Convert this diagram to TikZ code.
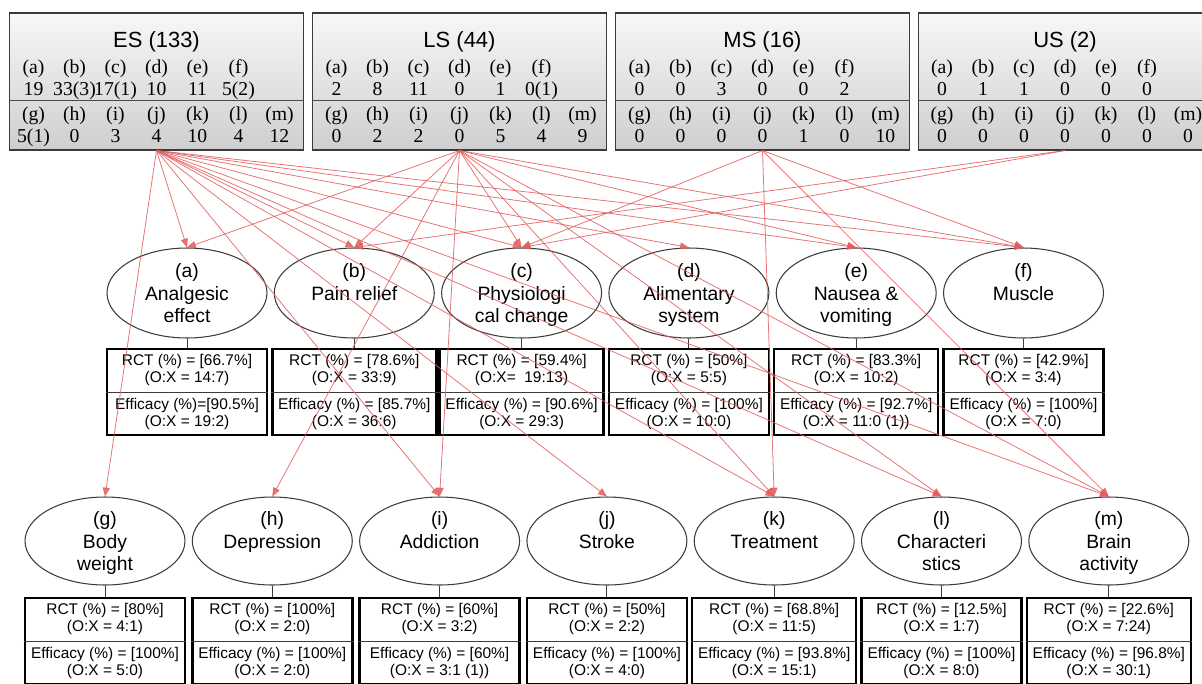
\documentclass[tikz,border=0pt]{standalone}
\usepackage{fontspec}
\setmainfont{Liberation Serif}
\setsansfont{Liberation Sans}
\usepackage{array}
\usepackage{xcolor}
\usepackage{tikz}
\usetikzlibrary{positioning, shapes.geometric, shapes.multipart, arrows.meta}

\definecolor{linkred}{RGB}{226,92,92}
\definecolor{framegray}{RGB}{60,60,60}

% title, first value row, second value row
\newcommand{\countgrid}[3]{%
  \begin{tabular}{*{7}{@{}w{c}{0.82cm}@{}}}
    \multicolumn{7}{c}{\sffamily\fontsize{12.5}{14}\selectfont #1}\\[2pt]
    (a) & (b) & (c) & (d) & (e) & (f) & \\
    #2\\[1.7pt]
    (g) & (h) & (i) & (j) & (k) & (l) & (m)\\
    #3
  \end{tabular}}

\begin{document}
\begin{tikzpicture}[x=0.02cm, y=-0.02cm,
    source/.style = {draw=framegray, line width=0.6pt,
                     top color=gray!6, bottom color=gray!38,
                     minimum width=5.88cm, minimum height=2.74cm,
                     inner sep=0pt},
    counts/.style = {font=\fontsize{11.2}{12.5}\selectfont, inner sep=0pt},
    topic/.style = {draw=framegray, ellipse, line width=0.6pt,
                    minimum width=3.2cm, minimum height=1.8cm,
                    inner sep=0pt, align=center, text depth=0pt,
                    font=\sffamily\fontsize{11}{13}\selectfont},
    result/.style = {draw, rectangle split, rectangle split parts=2,
                     rectangle split draw splits=false,
                     line width=1.4pt, minimum width=3.2cm,
                     inner ysep=2.7pt, align=center,
                     font=\sffamily\fontsize{8.8}{9.6}\selectfont},
    tie/.style = {draw=framegray, line width=0.5pt},
    link/.style = {draw=linkred, line width=0.45pt, opacity=0.85,
                   -{Triangle[length=5pt,width=4pt]}}]

  \useasboundingbox (0,0) rectangle (1202,683);

  % study groups
  \node (ES) [source] at (156.5,81.5) {};
  \node (LS) [source] at (459.5,81.5) {};
  \node (MS) [source] at (762.5,81.5) {};
  \node (US) [source] at (1065,81.5) {};

  \node (ES-n) [counts] at (156.5,90.5)
    {\countgrid{ES (133)}{19 & 33(3) & 17(1) & 10 & 11 & 5(2) &}{5(1) & 0 & 3 & 4 & 10 & 4 & 12}};
  \node (LS-n) [counts] at (459.5,90.5)
    {\countgrid{LS (44)}{2 & 8 & 11 & 0 & 1 & 0(1) &}{0 & 2 & 2 & 0 & 5 & 4 & 9}};
  \node (MS-n) [counts] at (762.5,90.5)
    {\countgrid{MS (16)}{0 & 0 & 3 & 0 & 0 & 2 &}{0 & 0 & 0 & 0 & 1 & 0 & 10}};
  \node (US-n) [counts] at (1065,90.5)
    {\countgrid{US (2)}{0 & 1 & 1 & 0 & 0 & 0 &}{0 & 0 & 0 & 0 & 0 & 0 & 0}};

  \foreach \g in {ES, LS, MS, US}
    \draw [draw=gray!60!black, line width=0.8pt] (\g.west |- 0,100.5) -- (\g.east |- 0,100.5);

  % first row of topics
  \node (a) [topic] at (187,293) {(a)\\Analgesic\\effect};
  \node (b) [topic] at (354.3,293) {(b)\\Pain relief\\\mbox{}};
  \node (c) [topic] at (521.6,293) {(c)\\Physiologi\\cal change};
  \node (d) [topic] at (688.9,293) {(d)\\Alimentary\\system};
  \node (e) [topic] at (856.2,293) {(e)\\Nausea \&\\vomiting};
  \node (f) [topic] at (1023.5,293) {(f)\\Muscle\\\mbox{}};

  \node (ra) [result, below=0.18cm of a] {RCT (\%) = [66.7\%]\\(O:X = 14:7)\nodepart{two}Efficacy (\%)=[90.5\%]\\(O:X = 19:2)};
  \node (rb) [result, below=0.18cm of b] {RCT (\%) = [78.6\%]\\(O:X = 33:9)\nodepart{two}Efficacy (\%) = [85.7\%]\\(O:X = 36:6)};
  \node (rc) [result, below=0.18cm of c] {RCT (\%) = [59.4\%]\\(O:X=\ \ 19:13)\nodepart{two}Efficacy (\%) = [90.6\%]\\(O:X = 29:3)};
  \node (rd) [result, below=0.18cm of d] {RCT (\%) = [50\%]\\(O:X = 5:5)\nodepart{two}Efficacy (\%) = [100\%]\\(O:X = 10:0)};
  \node (re) [result, below=0.18cm of e] {RCT (\%) = [83.3\%]\\(O:X = 10:2)\nodepart{two}Efficacy (\%) = [92.7\%]\\(O:X = 11:0 (1))};
  \node (rf) [result, below=0.18cm of f] {RCT (\%) = [42.9\%]\\(O:X = 3:4)\nodepart{two}Efficacy (\%) = [100\%]\\(O:X = 7:0)};

  % second row of topics
  \node (g) [topic, minimum height=1.76cm] at (105,541) {(g)\\Body\\weight};
  \node (h) [topic, minimum height=1.76cm] at (272.3,541) {(h)\\Depression\\\mbox{}};
  \node (i) [topic, minimum height=1.76cm] at (439.6,541) {(i)\\Addiction\\\mbox{}};
  \node (j) [topic, minimum height=1.76cm] at (606.9,541) {(j)\\Stroke\\\mbox{}};
  \node (k) [topic, minimum height=1.76cm] at (774.2,541) {(k)\\Treatment\\\mbox{}};
  \node (l) [topic, minimum height=1.76cm] at (941.5,541) {(l)\\Characteri\\stics};
  \node (m) [topic, minimum height=1.76cm] at (1108.8,541) {(m)\\Brain\\activity};

  \node (rg) [result, below=0.22cm of g] {RCT (\%) = [80\%]\\(O:X = 4:1)\nodepart{two}Efficacy (\%) = [100\%]\\(O:X = 5:0)};
  \node (rh) [result, below=0.22cm of h] {RCT (\%) = [100\%]\\(O:X = 2:0)\nodepart{two}Efficacy (\%) = [100\%]\\(O:X = 2:0)};
  \node (ri) [result, below=0.22cm of i] {RCT (\%) = [60\%]\\(O:X = 3:2)\nodepart{two}Efficacy (\%) = [60\%]\\(O:X = 3:1 (1))};
  \node (rj) [result, below=0.22cm of j] {RCT (\%) = [50\%]\\(O:X = 2:2)\nodepart{two}Efficacy (\%) = [100\%]\\(O:X = 4:0)};
  \node (rk) [result, below=0.22cm of k] {RCT (\%) = [68.8\%]\\(O:X = 11:5)\nodepart{two}Efficacy (\%) = [93.8\%]\\(O:X = 15:1)};
  \node (rl) [result, below=0.22cm of l] {RCT (\%) = [12.5\%]\\(O:X = 1:7)\nodepart{two}Efficacy (\%) = [100\%]\\(O:X = 8:0)};
  \node (rm) [result, below=0.22cm of m] {RCT (\%) = [22.6\%]\\(O:X = 7:24)\nodepart{two}Efficacy (\%) = [96.8\%]\\(O:X = 30:1)};

  \foreach \t in {a, b, c, d, e, f, g, h, i, j, k, l, m} {
    \draw [tie] (\t) -- (r\t);
    \draw [tie] (r\t.text split west) -- (r\t.text split east);
  }

  % links from the study groups
  \foreach \t in {a, b, c, d, e, f, g, i, j, k, l, m}
    \draw [link] (ES.south) -- (\t.north);
  \foreach \t in {a, b, c, e, f, h, i, k, l, m}
    \draw [link] (LS.south) -- (\t.north);
  \foreach \t in {c, f, k, m}
    \draw [link] (MS.south) -- (\t.north);
  \foreach \t in {b, c}
    \draw [link] (US.south) -- (\t.north);
\end{tikzpicture}
\end{document}
